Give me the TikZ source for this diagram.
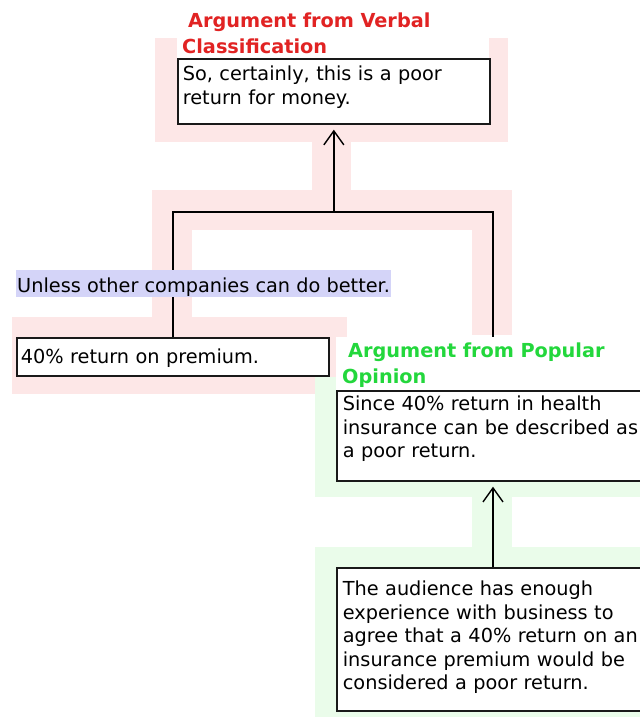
\documentclass[tikz,border=0pt]{standalone}
\usepackage{fontspec}
\setmainfont{DejaVu Sans}
\usetikzlibrary{arrows.meta}
\definecolor{pinkbg}{RGB}{253,231,231}
\definecolor{greenbg}{RGB}{234,252,234}
\definecolor{lav}{RGB}{212,212,248}
\definecolor{tred}{RGB}{225,35,35}
\definecolor{tgreen}{RGB}{35,215,60}
\pgfdeclarelayer{bg}
\pgfdeclarelayer{lines}
\pgfsetlayers{bg,lines,main}
\tikzset{
  box/.style={draw=black!90, line width=1.7pt, fill=white, anchor=north west,
    inner xsep=5pt, inner ysep=0pt, align=left,
    font=\fontsize{19.3}{23.5}\selectfont},
  ttl/.style={fill=white, anchor=north west, inner xsep=5pt, inner ysep=0pt,
    align=left, font=\bfseries\fontsize{19.3}{26}\selectfont},
  hilite/.style={fill=lav, anchor=north west, inner xsep=1pt, inner ysep=0pt,
    font=\fontsize{19.3}{23.5}\selectfont},
  conn/.style={line width=1.5pt, draw=black},
  arr/.style={conn, -{Straight Barb[length=14pt,width=20pt,line width=1.4pt]}},
}
\begin{document}
\begin{tikzpicture}[x=1pt,y=-1pt]
\useasboundingbox (0,0) rectangle (640,721);

% nodes
\node[ttl, text=tred, text width=302pt, text height=22pt, text depth=31pt] (t1) at (177,5)
  {\hspace*{6pt}Argument from Verbal\\Classification};
\node[box, text width=302pt, text height=22pt, text depth=43pt] (b1) at (177,58)
  {So, certainly, this is a poor\\return for money.};
\node[hilite, text height=22pt, text depth=5pt] (sep) at (16,270)
  {Unless other companies can do better.};
\node[box, inner xsep=4pt, text width=304pt, text height=26pt, text depth=12pt] (b2) at (16,337)
  {40\% return on premium.};
\node[ttl, text=tgreen, inner xsep=6pt, text width=320pt, text height=20pt, text depth=33pt] (t2) at (336,337)
  {\hspace*{6pt}Argument from Popular\\Opinion};
\node[box, inner xsep=6pt, text width=320pt, text height=20pt, text depth=70pt] (b3) at (336,390)
  {Since 40\% return in health\\insurance can be described as\\a poor return.};
\node[box, inner xsep=6pt, text width=320pt, text height=28pt, text depth=115pt] (b4) at (336,567)
  {The audience has enough\\experience with business to\\agree that a 40\% return on an\\insurance premium would be\\considered a poor return.};

\coordinate (jl) at (172,212);
\coordinate (jr) at (493,212);
\coordinate (jm) at (b1.south |- jl);

% connectors
\begin{pgfonlayer}{lines}
  \draw[conn] (b2.north) |- (jr) -- (jr |- t2.north);
  \draw[arr] (jm) -- ([yshift=-5pt]b1.south);
  \draw[arr] (jr |- b4.north) -- ([yshift=-5pt]jr |- b3.south);
\end{pgfonlayer}

% group backgrounds
\begin{pgfonlayer}{bg}
  \fill[pinkbg] (155,38) rectangle (508,142);
  \fill[pinkbg] (312,142) rectangle (351,190);
  \fill[pinkbg] (152,190) rectangle (512,230);
  \fill[pinkbg] (152,230) rectangle (192,317);
  \fill[pinkbg] (472,230) rectangle (512,335);
  \fill[pinkbg] (12,317) rectangle (347,394);
  \fill[greenbg] (315,377) rectangle (640,497);
  \fill[greenbg] (472,497) rectangle (512,547);
  \fill[greenbg] (315,547) rectangle (640,717);
\end{pgfonlayer}
\end{tikzpicture}
\end{document}
